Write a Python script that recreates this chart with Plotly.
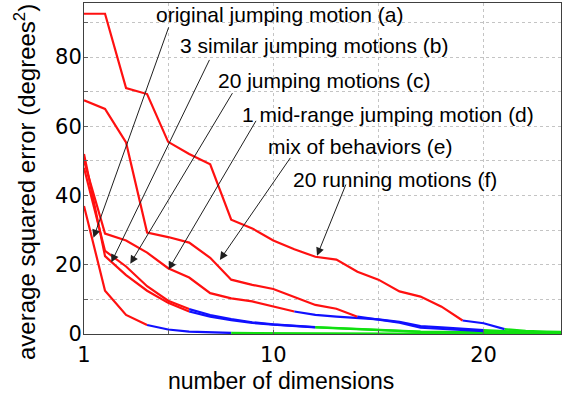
import plotly.graph_objects as go

# ---------------- data ----------------
dims = list(range(1, 25))

curve_a = [37, 12.5, 5.5, 2.6, 1.3, 0.7, 0.5, 0.3, 0.25, 0.22, 0.2, 0.18,
           0.16, 0.15, 0.13, 0.12, 0.11, 0.1, 0.09, 0.08, 0.07, 0.06, 0.05, 0.05]
curve_b = [52, 22.5, 17, 12.5, 9, 6.5, 5.0, 4.0, 3.2, 2.7, 2.3, 1.9,
           1.6, 1.3, 1.0, 0.8, 0.6, 0.5, 0.4, 0.3, 0.3, 0.2, 0.2, 0.2]
curve_c = [48, 24, 19.5, 13.8, 9.6, 7.2, 5.5, 4.3, 3.4, 2.8, 2.4, 2.0,
           1.7, 1.4, 1.1, 0.9, 0.7, 0.6, 0.5, 0.4, 0.3, 0.3, 0.2, 0.2]
curve_d = [50, 29, 27, 23.5, 19, 16.3, 11.8, 10.3, 9.4, 7.9, 6.5, 5.5,
           5.0, 4.6, 4.2, 3.5, 2.3, 1.9, 1.5, 1.1, 0.8, 0.6, 0.5, 0.4]
curve_e = [67.5, 65, 55.3, 29.3, 28, 26.4, 22, 15.7, 14.2, 13, 10.7, 8.4,
           7.3, 5.0, 4.2, 3.3, 1.8, 1.4, 1.1, 0.8, 0.6, 0.5, 0.4, 0.4]
curve_f = [92.5, 92.5, 71, 69.3, 55.5, 52, 49, 33, 30.5, 27, 24.5, 22.3,
           21.5, 18, 15.7, 12.3, 10.8, 7.9, 3.9, 3.1, 1.4, 0.9, 0.7, 0.6]

curve_names = ["a", "b", "c", "d", "e", "f"]
curve_values = [curve_a, curve_b, curve_c, curve_d, curve_e, curve_f]
red_until = [4, 6, 6, 11, 14, 19]      # dimension where red turns blue
blue_until = [8, 12, 12, 20, 20, 21]   # dimension where blue turns green

labels = ["original jumping motion (a)", "3 similar jumping motions (b)",
          "20 jumping motions (c)", "1 mid-range jumping motion (d)",
          "mix of behaviors (e)", "20 running motions (f)"]

x_tick_vals = [1, 5, 10, 15, 20]
x_tick_text = ["1", "", "10", "", "20"]
y_tick_vals = [0, 10, 20, 30, 40, 50, 60, 70, 80, 90]
y_tick_text = ["0", "", "20", "", "40", "", "60", "", "80", ""]

# ---------------- figure ----------------
RED, BLUE, GREEN = "#ff1010", "#1010ff", "#10e010"
FONT = "Liberation Sans, Arial, sans-serif"
TICKFONT = "DejaVu Sans, sans-serif"

fig = go.Figure()
for name, vals, r, b in zip(curve_names, curve_values, red_until, blue_until):
    segs = [(1, r, RED), (r, b, BLUE), (b, dims[-1], GREEN)]
    for lo, hi, col in segs:
        xs = [d for d in dims if lo <= d <= hi]
        ys = [vals[d - 1] for d in xs]
        fig.add_trace(go.Scatter(x=xs, y=ys, mode="lines",
                                 line=dict(color=col, width=2.2),
                                 showlegend=False, hoverinfo="skip"))

# label positions (data coords) and arrows: tail -> tip
label_pos = [(4.35, 92.2), (5.45, 83.2), (7.26, 73.3), (8.4, 63.5), (9.64, 54.2), (10.83, 44.6)]
arrow_tail = [(5.05, 89.0), (7.0, 79.6), (8.1, 70.0), (9.22, 62.0), (10.86, 51.3), (13.48, 43.6)]
arrow_tip = [(1.45, 27.8), (2.3, 20.7), (3.2, 20.3), (5.02, 18.6), (7.46, 21.4), (12.08, 22.6)]

for txt, (lx, ly), (tx, ty), (hx, hy) in zip(labels, label_pos, arrow_tail, arrow_tip):
    fig.add_annotation(x=hx, y=hy, ax=tx, ay=ty, axref="x", ayref="y",
                       xref="x", yref="y", text="", showarrow=True,
                       arrowhead=2, arrowsize=1.6, arrowwidth=1,
                       arrowcolor="#202020")
    fig.add_annotation(x=lx, y=ly, xref="x", yref="y", text=txt,
                       showarrow=False, xanchor="left", yanchor="middle",
                       font=dict(family=FONT, size=21, color="black"))

# axis titles as annotations (centered on figure like the original)
fig.add_annotation(x=(281 - 84) / 477, y=-0.142, xref="paper", yref="paper",
                   text="number of dimensions", showarrow=False,
                   xanchor="center", yanchor="middle",
                   font=dict(family=FONT, size=23, color="black"))
fig.add_annotation(x=(25 - 84) / 477, y=(334 - 182) / 331, xref="paper", yref="paper",
                   text="average squared error (degrees<sup>2</sup>)", showarrow=False,
                   textangle=-90, xanchor="center", yanchor="middle",
                   font=dict(family=FONT, size=24, color="black"))

axis_common = dict(showline=True, linecolor="#404040", linewidth=1, mirror=True,
                   showgrid=True, gridcolor="#c4c4c4", griddash="dot", gridwidth=1,
                   ticks="inside", ticklen=4, tickcolor="#606060", zeroline=False,
                   automargin=False,
                   tickfont=dict(family=TICKFONT, size=21, color="black"))

fig.update_xaxes(range=[1, 23.68], tickvals=x_tick_vals, ticktext=x_tick_text,
                 ticklabelstandoff=2, **axis_common)
fig.update_yaxes(range=[0, 95.6], tickvals=y_tick_vals, ticktext=y_tick_text,
                 ticklabelstandoff=-3, **axis_common)

fig.update_layout(width=565, height=397, margin=dict(l=84, r=4, t=3, b=63),
                  paper_bgcolor="white", plot_bgcolor="white",
                  showlegend=False)

fig.write_html("out.html", config={"displayModeBar": False},
               post_script="document.body.style.margin='0';document.body.style.padding='0';")
